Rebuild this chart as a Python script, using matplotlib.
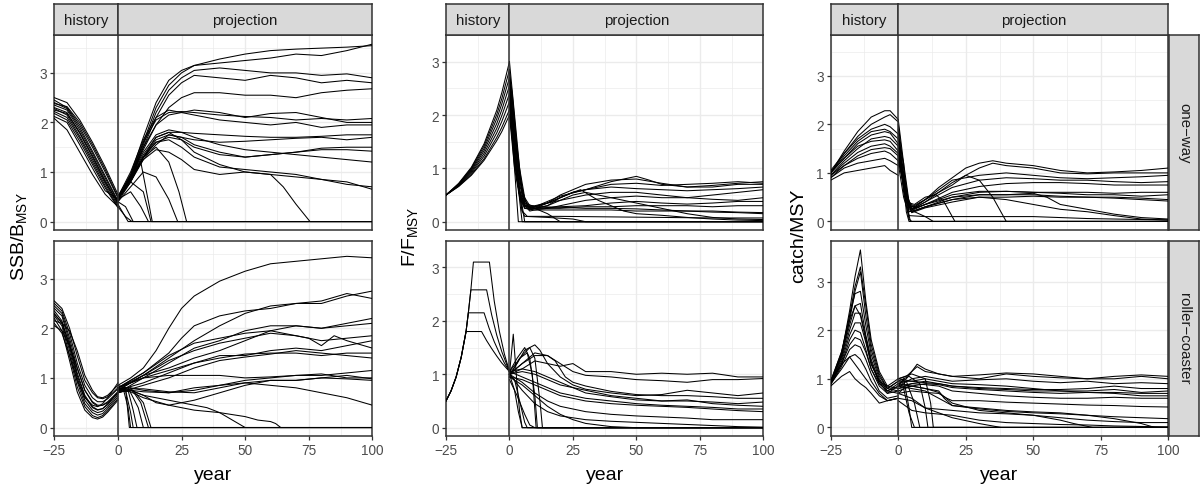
import matplotlib.pyplot as plt

plt.rcParams['font.family'] = ['Liberation Sans', 'DejaVu Sans']
plt.rcParams['mathtext.fontset'] = 'custom'
plt.rcParams['mathtext.rm'] = 'Liberation Sans'
plt.rcParams['mathtext.it'] = 'Liberation Sans:italic'

# ---------------- data ----------------
# SSB / BMSY, one-way history (values at hist_years_5)
hist_years_5 = [-25, -20, -15, -10, -5, 0]
ssb_oneway_hist = [
    [2.50, 2.40, 2.05, 1.60, 1.10, 0.55],
    [2.45, 2.30, 1.95, 1.50, 1.00, 0.48],
    [2.40, 2.28, 1.90, 1.42, 0.92, 0.42],
    [2.35, 2.25, 1.85, 1.38, 0.88, 0.40],
    [2.30, 2.20, 1.80, 1.33, 0.83, 0.36],
    [2.28, 2.15, 1.72, 1.25, 0.77, 0.33],
    [2.22, 2.10, 1.68, 1.20, 0.72, 0.30],
    [2.18, 2.05, 1.62, 1.15, 0.68, 0.28],
    [2.12, 2.00, 1.55, 1.08, 0.62, 0.45],
    [2.08, 1.85, 1.40, 0.95, 0.55, 0.30],
    [2.38, 2.32, 2.00, 1.55, 1.05, 0.50],
    [2.25, 2.18, 1.78, 1.30, 0.80, 0.38],
]
ssb_oneway_proj = [
    [(0, .45), (5, .9), (10, 1.6), (15, 2.3), (20, 2.75), (25, 3.0), (30, 3.15), (40, 3.28), (50, 3.38), (60, 3.45), (70, 3.48), (80, 3.5), (90, 3.52), (100, 3.55)],
    [(0, .5), (5, .95), (10, 1.7), (15, 2.4), (20, 2.85), (25, 3.05), (30, 3.15), (40, 3.2), (50, 3.25), (60, 3.3), (70, 3.38), (80, 3.35), (90, 3.45), (100, 3.58)],
    [(0, .5), (5, .9), (10, 1.55), (15, 2.2), (20, 2.65), (25, 2.9), (30, 3.05), (40, 3.1), (50, 3.05), (60, 3.0), (70, 3.0), (80, 2.95), (90, 2.98), (100, 2.9)],
    [(0, .45), (5, .85), (10, 1.5), (15, 2.1), (20, 2.55), (25, 2.8), (30, 2.95), (40, 2.9), (50, 2.85), (60, 2.95), (70, 2.9), (80, 2.8), (90, 2.85), (100, 2.8)],
    [(0, .5), (5, .9), (10, 1.45), (15, 1.95), (20, 2.3), (25, 2.5), (30, 2.6), (40, 2.6), (50, 2.55), (60, 2.55), (70, 2.5), (80, 2.6), (90, 2.65), (100, 2.68)],
    [(0, .45), (5, .95), (10, 1.6), (15, 2.05), (20, 2.2), (25, 2.22), (30, 2.2), (40, 2.15), (50, 2.12), (60, 2.1), (70, 2.05), (80, 2.08), (90, 2.05), (100, 2.08)],
    [(0, .5), (5, 1.0), (10, 1.65), (15, 2.1), (20, 2.25), (25, 2.2), (30, 2.25), (40, 2.2), (50, 2.1), (60, 2.18), (70, 2.2), (80, 2.1), (90, 2.0), (100, 2.0)],
    [(0, .45), (5, .9), (10, 1.5), (15, 1.95), (20, 2.15), (25, 2.2), (30, 2.15), (40, 2.05), (50, 2.0), (60, 1.95), (70, 2.0), (80, 1.9), (90, 1.95), (100, 1.95)],
    [(0, .5), (5, .9), (10, 1.35), (15, 1.7), (20, 1.8), (25, 1.8), (30, 1.78), (40, 1.75), (50, 1.72), (60, 1.7), (70, 1.7), (80, 1.72), (90, 1.75), (100, 1.75)],
    [(0, .45), (5, .85), (10, 1.3), (15, 1.65), (20, 1.75), (25, 1.7), (30, 1.65), (40, 1.6), (50, 1.62), (60, 1.65), (70, 1.68), (80, 1.7), (90, 1.65), (100, 1.7)],
    [(0, .4), (5, .8), (10, 1.25), (15, 1.55), (20, 1.75), (25, 1.7), (30, 1.55), (40, 1.4), (50, 1.3), (60, 1.35), (70, 1.4), (80, 1.45), (90, 1.45), (100, 1.42)],
    [(0, .45), (5, .9), (10, 1.3), (15, 1.6), (20, 1.7), (25, 1.65), (30, 1.5), (40, 1.35), (50, 1.3), (60, 1.35), (70, 1.4), (80, 1.48), (90, 1.5), (100, 1.5)],
    [(0, .5), (5, .9), (10, 1.4), (15, 1.75), (20, 1.85), (25, 1.8), (30, 1.7), (40, 1.55), (50, 1.45), (60, 1.4), (70, 1.35), (80, 1.3), (90, 1.25), (100, 1.2)],
    [(0, .45), (5, .85), (10, 1.3), (15, 1.6), (20, 1.65), (25, 1.5), (30, 1.3), (40, 1.1), (50, 1.05), (60, 1.0), (70, .95), (80, .85), (90, .8), (100, .65)],
    [(0, .5), (5, .85), (10, 1.25), (15, 1.45), (20, 1.4), (25, 1.25), (30, 1.05), (40, .95), (50, 1.0), (60, .95), (70, .9), (80, .85), (90, .75), (100, .7)],
    [(0, .45), (5, .8), (10, 1.3), (15, 1.7), (20, 1.8), (25, 1.65), (30, 1.4), (40, 1.15), (50, 1.0), (60, .95), (65, .7), (70, .35), (75.5, 0)],
    [(0, .45), (5, .8), (10, 1.3), (15, 1.5), (20, 1.2), (24, .6), (27, 0)],
    [(0, .4), (5, .7), (10, 1.0), (15, .9), (20, .45), (23.5, 0)],
    [(0, .35), (4, 0)],
    [(0, .3), (3, .1), (5.5, 0)],
    [(0, .45), (5, .6), (9, .3), (12, 0)],
    [(0, .5), (5, .8), (10, .6), (13, 0)],
    [(0, .45), (5, .9), (9, 1.2), (13.5, 0)],
    [(0, .4), (3, .3), (6, 0)],
]

# SSB / BMSY, roller-coaster history (values at hist_years_rc)
hist_years_rc = [-25, -22, -19, -16, -13, -10, -8, -6, -4, -2, 0]
ssb_roller_hist = [
    [2.55, 2.40, 2.00, 1.45, 0.95, 0.70, 0.60, 0.58, 0.62, 0.70, 0.80],
    [2.50, 2.35, 1.90, 1.30, 0.85, 0.60, 0.52, 0.52, 0.58, 0.68, 0.78],
    [2.45, 2.30, 1.80, 1.20, 0.75, 0.50, 0.43, 0.45, 0.52, 0.62, 0.72],
    [2.40, 2.25, 1.72, 1.10, 0.65, 0.42, 0.36, 0.38, 0.46, 0.58, 0.70],
    [2.35, 2.15, 1.62, 1.00, 0.55, 0.35, 0.30, 0.33, 0.42, 0.54, 0.66],
    [2.30, 2.10, 1.55, 0.92, 0.48, 0.30, 0.25, 0.28, 0.38, 0.50, 0.62],
    [2.25, 2.05, 1.45, 0.82, 0.42, 0.24, 0.20, 0.24, 0.34, 0.46, 0.58],
    [2.20, 1.95, 1.35, 0.72, 0.35, 0.20, 0.17, 0.21, 0.31, 0.43, 0.55],
    [2.15, 2.10, 1.95, 1.55, 1.05, 0.75, 0.62, 0.60, 0.65, 0.75, 0.85],
    [2.10, 1.90, 1.45, 0.95, 0.60, 0.45, 0.42, 0.48, 0.60, 0.75, 0.90],
    [2.05, 1.95, 1.65, 1.20, 0.75, 0.52, 0.45, 0.45, 0.50, 0.60, 0.68],
    [2.28, 2.12, 1.68, 1.05, 0.62, 0.40, 0.35, 0.38, 0.48, 0.60, 0.72],
]
ssb_roller_proj = [
    [(0, .85), (5, 1.0), (10, 1.2), (15, 1.55), (20, 2.0), (25, 2.4), (30, 2.65), (40, 2.95), (50, 3.15), (60, 3.3), (70, 3.35), (80, 3.4), (90, 3.45), (100, 3.42)],
    [(0, .8), (5, .95), (10, 1.1), (20, 1.5), (25, 1.8), (30, 2.05), (40, 2.25), (50, 2.35), (60, 2.4), (70, 2.5), (80, 2.5), (90, 2.65), (100, 2.75)],
    [(0, .75), (10, 1.05), (20, 1.4), (30, 1.75), (40, 2.05), (50, 2.3), (60, 2.45), (70, 2.5), (80, 2.55), (90, 2.7), (100, 2.6)],
    [(0, .8), (10, 1.1), (20, 1.45), (30, 1.7), (40, 1.8), (50, 1.9), (60, 1.95), (70, 2.05), (80, 2.0), (90, 2.1), (100, 2.2)],
    [(0, .7), (10, 1.0), (20, 1.3), (30, 1.6), (40, 1.75), (50, 1.95), (60, 2.05), (70, 2.05), (80, 2.0), (90, 2.05), (100, 2.1)],
    [(0, .75), (10, 1.05), (20, 1.35), (30, 1.55), (40, 1.7), (50, 1.8), (60, 1.9), (70, 1.85), (80, 1.75), (90, 1.8), (100, 1.85)],
    [(0, .8), (10, 1.05), (20, 1.2), (30, 1.4), (40, 1.55), (50, 1.75), (60, 1.95), (70, 1.85), (75, 1.8), (80, 1.65), (85, 1.85), (90, 1.75), (100, 1.6)],
    [(0, .75), (10, .9), (20, 1.1), (30, 1.3), (40, 1.4), (50, 1.48), (60, 1.5), (70, 1.5), (80, 1.45), (90, 1.5), (100, 1.5)],
    [(0, .7), (10, .85), (20, 1.0), (30, 1.2), (40, 1.35), (50, 1.42), (60, 1.48), (70, 1.55), (80, 1.5), (90, 1.45), (100, 1.4)],
    [(0, .8), (10, 1.0), (20, 1.15), (30, 1.3), (40, 1.45), (50, 1.45), (60, 1.55), (70, 1.6), (80, 1.55), (90, 1.65), (100, 1.75)],
    [(0, .8), (10, 1.0), (20, 1.05), (30, 1.05), (40, 1.05), (50, 1.0), (60, 1.02), (70, 1.05), (80, 1.05), (90, 1.1), (100, 1.15)],
    [(0, .75), (5, .75), (10, .72), (20, .7), (30, .75), (40, .85), (50, .95), (60, 1.0), (70, 1.05), (80, 1.08), (90, 1.0), (100, 1.0)],
    [(0, .7), (5, .78), (10, .78), (20, .72), (30, .7), (40, .8), (50, .9), (60, .95), (70, .95), (80, 1.0), (90, 1.05), (100, .98)],
    [(0, .75), (5, .75), (10, .65), (15, .5), (20, .45), (25, .5), (30, .55), (40, .7), (50, .85), (60, .95), (70, .95), (80, 1.0), (90, .98), (100, .95)],
    [(0, .78), (5, .8), (10, .75), (20, .7), (30, .8), (40, .85), (50, .9), (60, .85), (70, .8), (75, .75), (80, .7), (90, .6), (100, .45)],
    [(0, .78), (5, .75), (10, .65), (20, .55), (25, .5), (30, .45), (35, .4), (40, .3), (45, .15), (50, 0)],
    [(0, .75), (5, .72), (10, .6), (20, .45), (30, .35), (40, .3), (50, .22), (55, .15), (60, .12), (62, .08), (64, 0)],
    [(0, .75), (2, .8), (4, .4), (5, 0)],
    [(0, .8), (3, .75), (5, .3), (6, 0)],
    [(0, .7), (4, .75), (6, .35), (7.5, 0)],
    [(0, .8), (4, .8), (8, .4), (10, 0)],
    [(0, .78), (5, .8), (9, .5), (12, 0)],
    [(0, .72), (6, .75), (10, .5), (13, 0)],
    [(0, .85), (3, .8), (4.5, 0)],
]

# F / FMSY, one-way
hist_years_f = [-25, -20, -15, -10, -5, -3, 0]
f_oneway_hist = [
    [0.5, 0.720, 1.020, 1.460, 2.09, 2.42, 3.00],
    [0.5, 0.708, 1.003, 1.420, 2.01, 2.31, 2.85],
    [0.5, 0.701, 0.982, 1.375, 1.93, 2.21, 2.70],
    [0.5, 0.693, 0.960, 1.330, 1.84, 2.10, 2.55],
    [0.5, 0.684, 0.936, 1.280, 1.75, 1.99, 2.40],
    [0.5, 0.676, 0.913, 1.230, 1.665, 1.88, 2.25],
    [0.5, 0.666, 0.888, 1.180, 1.58, 1.77, 2.10],
    [0.5, 0.660, 0.870, 1.150, 1.52, 1.69, 2.00],
]
f_oneway_proj = [
    [(0, 3.0), (2, 2.0), (4, 1.0), (6, .45), (8, .3), (10, .3), (15, .35), (20, .45), (25, .55), (30, .6), (40, .75), (50, .85), (55, .78), (60, .7), (70, .65), (80, .68), (90, .72), (100, .75)],
    [(0, 2.85), (2, 1.8), (4, .9), (6, .4), (8, .25), (10, .28), (15, .35), (20, .5), (25, .6), (30, .7), (40, .78), (50, .8), (60, .72), (70, .65), (80, .65), (90, .7), (100, .7)],
    [(0, 2.7), (1, 2.45), (3, 1.4), (5, .6), (7, .3), (10, .25), (15, .3), (20, .45), (25, .55), (30, .6), (40, .65), (50, .62), (60, .6), (70, .58), (80, .6), (90, .62), (100, .65)],
    [(0, 2.6), (2, 1.6), (4, .8), (6, .35), (8, .22), (10, .25), (15, .3), (20, .4), (30, .5), (40, .55), (50, .55), (60, .5), (70, .45), (80, .5), (90, .55), (100, .6)],
    [(0, 2.5), (2, 1.5), (4, .7), (6, .3), (8, .2), (10, .22), (15, .25), (20, .3), (30, .4), (40, .45), (50, .48), (60, .45), (70, .45), (80, .42), (90, .4), (100, .45)],
    [(0, 2.4), (2, 1.3), (4, .6), (6, .3), (10, .25), (20, .28), (30, .3), (40, .35), (50, .38), (60, .35), (70, .33), (80, .35), (90, .38), (100, .38)],
    [(0, 2.3), (2, 1.2), (4, .55), (6, .28), (10, .25), (20, .25), (30, .28), (40, .28), (50, .3), (60, .3), (70, .3), (80, .28), (90, .3), (100, .3)],
    [(0, 2.2), (2, 1.1), (4, .5), (6, .25), (10, .22), (20, .22), (30, .22), (40, .22), (50, .2), (60, .2), (70, .2), (80, .18), (90, .17), (100, .15)],
    [(0, 2.1), (1, 2.4), (3, 1.3), (5, .5), (8, .25), (10, .28), (20, .27), (30, .25), (40, .25), (50, .24), (60, .22), (70, .2), (80, .2), (90, .18), (100, .17)],
    [(0, 2.0), (2, 1.0), (4, .45), (6, .25), (10, .25), (15, .35), (20, .45), (25, .55), (28, .6), (35, .4), (40, .3), (45, .2), (50, .15), (60, .12), (70, .08), (80, .05), (90, .03), (100, .02)],
    [(0, 2.65), (2, 1.7), (4, .8), (6, .35), (10, .28), (15, .35), (20, .4), (25, .5), (30, .55), (40, .45), (50, .35), (60, .25), (70, .15), (80, .08), (90, .05), (100, .04)],
    [(0, 2.35), (2, 1.3), (4, .55), (6, .3), (10, .28), (15, .38), (20, .48), (30, .6), (40, .7), (50, .72), (60, .68), (70, .7), (80, .72), (90, .75), (100, .72)],
    [(0, 2.5), (2, 1.5), (4, .4), (5, 0)],
    [(0, 2.2), (2, 1.0), (3.5, 0)],
    [(0, 2.8), (2, 1.5), (4, .6), (6, 0)],
    [(0, 2.0), (3, .8), (5, .2), (6, .1), (15, .08), (25, .05), (30, 0)],
    [(0, 2.3), (3, .8), (5, .2), (7, .1), (20, .1), (40, .09), (60, .08), (80, .07), (100, .07)],
    [(0, 2.4), (2, 1.2), (4, .5), (6, .3), (10, .25), (15, .15), (20, 0)],
]

# F / FMSY, roller-coaster (four distinct history paths)
f_roller_hist = [
    [(-25, .5), (-23, .69), (-21, .95), (-19, 1.32), (-17.1, 1.8), (-16.2, 2.15), (-15.2, 2.58), (-14.2, 3.1), (-7.9, 3.1), (-6, 2.37), (-4, 1.81), (-2, 1.38), (0, 1.05)],
    [(-25, .5), (-23, .69), (-21, .95), (-19, 1.32), (-17.1, 1.8), (-16.2, 2.15), (-15.2, 2.58), (-9, 2.58), (-7, 2.11), (-5, 1.73), (-3, 1.42), (0, 1.05)],
    [(-25, .5), (-23, .69), (-21, .95), (-19, 1.32), (-17.1, 1.8), (-16.2, 2.15), (-10, 2.15), (-8, 1.86), (-6, 1.61), (-4, 1.4), (-2, 1.21), (0, 1.05)],
    [(-25, .5), (-23, .69), (-21, .95), (-19, 1.32), (-17.1, 1.8), (-11, 1.8), (-9, 1.63), (-7, 1.48), (-5, 1.34), (-3, 1.21), (0, 1.05)],
]
f_roller_proj = [
    [(0, 1.05), (5, 1.1), (10, 1.25), (15, 1.2), (20, 1.15), (25, 1.2), (30, 1.05), (40, 1.05), (50, 1.0), (60, 1.02), (70, 1.0), (80, 1.02), (90, .95), (100, .95)],
    [(0, 1.0), (5, 1.2), (10, 1.4), (15, 1.35), (20, 1.2), (25, 1.05), (30, .98), (40, .95), (50, .9), (60, .88), (70, .85), (80, .9), (90, .9), (100, .92)],
    [(0, 1.05), (5, 1.35), (8, 1.5), (10, 1.55), (12, 1.45), (15, 1.2), (20, .95), (25, .8), (30, .72), (40, .65), (50, .6), (60, .62), (70, .7), (80, .65), (90, .6), (100, .65)],
    [(0, 1.0), (5, 1.2), (10, 1.35), (15, 1.35), (18, 1.25), (22, .95), (25, .85), (30, .78), (40, .68), (50, .62), (60, .6), (70, .6), (80, .58), (90, .55), (100, .55)],
    [(0, 1.0), (5, 1.05), (10, 1.0), (15, .9), (20, .8), (30, .7), (40, .6), (50, .55), (60, .5), (70, .5), (80, .48), (90, .45), (100, .48)],
    [(0, 1.05), (5, .95), (10, .85), (15, .75), (20, .65), (30, .55), (40, .5), (50, .45), (60, .42), (70, .4), (80, .38), (90, .35), (100, .35)],
    [(0, .95), (5, .9), (10, .8), (15, .7), (20, .6), (30, .5), (40, .45), (50, .42), (60, .4), (70, .38), (80, .35), (90, .32), (100, .3)],
    [(0, 1.0), (5, 1.1), (10, 1.05), (15, .95), (20, .85), (30, .65), (40, .58), (50, .52), (60, .5), (70, .52), (80, .45), (90, .42), (100, .4)],
    [(0, 1.0), (5, .85), (10, .65), (15, .5), (20, .4), (30, .3), (40, .25), (50, .22), (60, .2), (70, .18), (80, .15), (90, .15), (100, .15)],
    [(0, .95), (5, .8), (10, .6), (15, .4), (20, .25), (25, .15), (30, .08), (40, .02), (50, 0)],
    [(0, 1.0), (5, .7), (10, .45), (15, .3), (20, .22), (30, .15), (40, .12), (50, .1), (60, .08), (70, .06), (80, .04), (90, .02), (100, .01)],
    [(0, 1.0), (3, 1.2), (6, 1.45), (8, 1.5), (10, 1.3), (12, .5), (13, 0)],
    [(0, 1.05), (3, 1.3), (6, 1.5), (8, 1.3), (10, .6), (11, 0)],
    [(0, .95), (4, 1.3), (7, 1.4), (9, 1.0), (10.5, 0)],
    [(0, 1.0), (1.5, 1.75), (3, .8), (4, .3), (5, 0)],
    [(0, 1.0), (2, .7), (3.5, .3), (5, 0)],
    [(0, 1.0), (2, .9), (4, .5), (6, .1), (7, 0)],
    [(0, .9), (3, .6), (6, .25), (8, .05), (10, 0)],
]

# catch / MSY, one-way (history values at hist_years_f)
catch_oneway_hist = [
    [1.00, 1.45, 1.85, 2.15, 2.28, 2.28, 2.10],
    [1.00, 1.40, 1.75, 2.00, 2.15, 2.20, 2.05],
    [1.00, 1.35, 1.65, 1.85, 1.90, 1.85, 1.70],
    [1.00, 1.30, 1.60, 1.78, 1.85, 1.82, 1.60],
    [0.95, 1.25, 1.50, 1.70, 1.75, 1.72, 1.55],
    [1.00, 1.30, 1.55, 1.65, 1.68, 1.65, 1.45],
    [0.95, 1.20, 1.42, 1.55, 1.60, 1.55, 1.40],
    [0.90, 1.15, 1.35, 1.48, 1.52, 1.50, 1.35],
    [0.95, 1.15, 1.30, 1.40, 1.45, 1.40, 1.25],
    [0.90, 1.10, 1.20, 1.25, 1.30, 1.25, 1.15],
    [0.85, 1.00, 1.05, 1.10, 1.15, 1.05, 0.95],
    [1.05, 1.40, 1.70, 1.90, 2.00, 1.95, 1.80],
]
catch_oneway_proj = [
    [(0, 2.1), (2, 1.2), (4, .4), (6, .3), (10, .45), (15, .7), (20, .9), (25, 1.1), (30, 1.2), (35, 1.25), (40, 1.2), (50, 1.15), (60, 1.05), (70, 1.0), (80, 1.02), (90, 1.05), (100, 1.1)],
    [(0, 2.0), (2, 1.1), (4, .35), (6, .28), (10, .4), (15, .6), (20, .8), (25, .95), (30, 1.1), (35, 1.2), (40, 1.15), (50, 1.1), (60, 1.0), (70, .98), (80, 1.0), (90, 1.0), (100, 1.0)],
    [(0, 1.8), (2, 1.0), (4, .3), (6, .3), (10, .45), (15, .65), (20, .85), (30, .95), (40, 1.0), (50, .95), (60, .9), (70, .88), (80, .9), (90, .92), (100, .95)],
    [(0, 1.7), (2, .9), (4, .25), (6, .28), (10, .4), (15, .55), (20, .7), (30, .85), (40, .9), (50, .88), (60, .85), (70, .85), (80, .82), (90, .8), (100, .82)],
    [(0, 1.6), (2, .8), (4, .2), (6, .25), (10, .35), (20, .6), (30, .72), (40, .78), (50, .8), (60, .8), (70, .78), (80, .75), (90, .75), (100, .75)],
    [(0, 1.5), (2, .7), (4, .2), (6, .22), (10, .3), (20, .5), (30, .6), (40, .62), (50, .6), (60, .58), (70, .55), (80, .55), (90, .52), (100, .55)],
    [(0, 1.45), (3, .5), (5, .2), (10, .3), (20, .45), (30, .55), (40, .55), (50, .55), (60, .52), (70, .5), (80, .5), (90, .48), (100, .45)],
    [(0, 1.4), (3, .45), (5, .18), (10, .28), (20, .4), (30, .5), (40, .5), (50, .52), (60, .5), (70, .5), (80, .48), (90, .45), (100, .42)],
    [(0, 1.35), (3, .5), (5, .25), (10, .35), (20, .55), (30, .62), (40, .62), (50, .6), (60, .6), (70, .6), (80, .58), (90, .6), (100, .6)],
    [(0, 1.25), (3, .55), (5, .3), (10, .45), (15, .6), (20, .75), (25, .95), (30, .85), (35, .5), (38, .2), (40, 0)],
    [(0, 1.55), (3, .6), (5, .25), (10, .35), (20, .5), (30, .55), (40, .55), (50, .58), (55, .5), (60, .35), (70, .25), (80, .15), (90, .08), (100, .05)],
    [(0, 1.3), (3, .45), (5, .2), (10, .3), (20, .45), (30, .5), (40, .45), (50, .35), (60, .25), (70, .2), (80, .12), (90, .05), (100, .03)],
    [(0, 1.2), (2, .5), (4, .12), (10, .1), (30, .1), (50, .1), (60, .08), (70, .06), (80, .05), (90, .04), (100, .03)],
    [(0, 1.9), (2, .8), (3, .2), (4, 0)],
    [(0, 1.6), (2, .6), (4, .05), (5, 0)],
    [(0, 1.75), (2, 1.2), (3, .4), (4.5, 0)],
    [(0, 1.45), (3, .4), (6, .2), (10, .1), (13, 0)],
    [(0, 1.35), (3, .4), (6, .35), (10, .5), (14, .55), (17, .4), (20, .1), (21, 0)],
]

# catch / MSY, roller-coaster
hist_years_c = [-25, -21, -18, -16, -14, -12, -10, -7, -4, 0]
catch_roller_hist = [
    [0.90, 1.50, 2.40, 3.10, 3.65, 2.60, 1.80, 1.15, 0.85, 0.80],
    [0.92, 1.50, 2.30, 2.90, 3.30, 2.50, 1.70, 1.10, 0.80, 0.75],
    [0.95, 1.55, 2.30, 2.75, 2.80, 2.10, 1.50, 1.00, 0.75, 0.70],
    [0.95, 1.45, 2.10, 2.50, 2.55, 1.90, 1.40, 0.95, 0.70, 0.85],
    [0.90, 1.40, 2.00, 2.35, 2.35, 1.85, 1.35, 0.90, 0.75, 0.90],
    [0.92, 1.35, 1.90, 2.15, 2.15, 1.75, 1.30, 0.95, 0.80, 0.95],
    [0.90, 1.30, 1.80, 2.00, 1.95, 1.60, 1.20, 0.85, 0.70, 0.75],
    [0.95, 1.30, 1.70, 1.85, 1.80, 1.55, 1.20, 0.90, 0.75, 0.85],
    [0.88, 1.25, 1.60, 1.70, 1.65, 1.40, 1.10, 0.75, 0.60, 0.65],
    [0.90, 1.20, 1.45, 1.50, 1.40, 1.20, 0.95, 0.70, 0.55, 0.60],
    [0.90, 1.30, 1.45, 1.30, 1.15, 1.00, 0.85, 0.65, 0.55, 0.60],
    [0.85, 1.05, 1.15, 1.00, 0.90, 0.82, 0.70, 0.50, 0.55, 0.60],
    [0.93, 1.45, 2.20, 2.80, 3.20, 2.30, 1.60, 1.05, 0.80, 0.95],
    [0.95, 1.55, 2.20, 2.50, 2.30, 1.80, 1.30, 0.95, 0.85, 1.00],
]
catch_roller_proj = [
    [(0, 1.0), (3, 1.05), (7, 1.25), (10, 1.15), (15, 1.1), (20, 1.05), (30, 1.0), (40, 1.1), (50, 1.05), (60, 1.02), (70, 1.0), (80, 1.05), (90, 1.08), (100, 1.05)],
    [(0, .9), (3, 1.0), (7, 1.3), (10, 1.2), (15, 1.1), (20, 1.05), (30, 1.08), (40, 1.12), (50, 1.1), (60, 1.05), (70, 1.0), (80, 1.0), (90, 1.05), (100, 1.0)],
    [(0, .85), (5, 1.0), (10, 1.05), (15, 1.0), (20, .95), (30, .98), (40, 1.0), (50, .95), (60, .92), (70, .95), (80, .9), (90, .92), (100, .9)],
    [(0, .95), (5, .95), (10, 1.0), (15, .95), (20, .9), (30, .88), (40, .85), (50, .8), (60, .75), (70, .75), (80, .78), (90, .72), (100, .75)],
    [(0, .8), (5, .9), (10, .95), (15, .9), (20, .85), (30, .8), (40, .78), (50, .75), (60, .75), (70, .72), (80, .72), (90, .7), (100, .7)],
    [(0, .75), (5, .85), (10, .9), (15, .88), (20, .82), (30, .78), (40, .75), (50, .72), (60, .7), (70, .72), (80, .7), (90, .65), (100, .65)],
    [(0, 1.0), (5, .95), (10, .92), (15, .9), (20, .85), (30, .82), (40, .8), (50, .78), (60, .78), (70, .8), (80, .85), (90, .8), (100, .8)],
    [(0, .85), (5, .9), (10, .88), (15, .85), (20, .75), (30, .7), (40, .65), (50, .62), (60, .6), (70, .6), (80, .62), (90, .6), (100, .6)],
    [(0, .7), (5, .75), (10, .72), (15, .7), (18, .6), (20, .55), (30, .55), (40, .52), (50, .5), (60, .48), (70, .46), (80, .45), (90, .43), (100, .42)],
    [(0, .9), (5, .85), (10, .8), (15, .75), (17, .6), (20, .45), (30, .38), (40, .33), (50, .3), (60, .28), (70, .25), (80, .22), (90, .2), (100, .18)],
    [(0, .6), (5, .55), (10, .4), (20, .35), (30, .3), (40, .28), (50, .25), (60, .2), (70, .15), (80, .12), (90, .1), (100, .1)],
    [(0, .55), (5, .35), (10, .3), (20, .25), (30, .15), (40, .1), (50, .08), (60, .06), (70, .05), (80, .03), (90, .02), (100, .01)],
    [(0, .8), (5, .85), (10, .8), (15, .72), (20, .5), (30, .35), (40, .3), (50, .25), (60, .15), (65, .08), (72, 0)],
    [(0, .85), (10, .75), (20, .45), (30, .4), (40, .35), (50, .32), (60, .3), (70, .25), (80, .18), (90, .08), (95, 0)],
    [(0, .7), (5, .6), (10, .4), (20, .2), (30, .08), (38, 0)],
    [(0, .85), (2, 1.0), (4, .4), (5, 0)],
    [(0, .7), (2, .8), (4, .3), (6, 0)],
    [(0, .9), (3, .95), (6, .5), (8, 0)],
    [(0, .95), (4, 1.05), (8, .9), (10, .4), (11, 0)],
    [(0, 1.0), (5, 1.1), (10, 1.0), (12, .5), (13, 0)],
]

x_ticks = [-25, 0, 25, 50, 75, 100]
y_ticks = [0, 1, 2, 3]
col_titles = ['SSB/B$_{\\mathrm{MSY}}$', 'F/F$_{\\mathrm{MSY}}$', 'catch/MSY']
row_labels = ['one\u2212way', 'roller\u2212coaster']

# ---------------- layout (pixels) ----------------
W, H = 1203, 489
fig = plt.figure(figsize=(W / 100, H / 100), dpi=100)

cols = [(54.3, 372.3), (446.0, 763.3), (830.7, 1168.3)]
rows = [(36.0, 230.7), (241.7, 436.7)]
ylims = [(-0.165, 3.765), (-0.15, 3.25), (-0.17, 3.84)]
border = '#333333'


def px_axes(x0, x1, ytop, ybot):
    return fig.add_axes([x0 / W, 1 - ybot / H, (x1 - x0) / W, (ybot - ytop) / H])


def strip(x0, x1, ytop, ybot, label, rot=0):
    sax = px_axes(x0, x1, ytop, ybot)
    sax.set_facecolor('#D9D9D9')
    sax.set_xticks([])
    sax.set_yticks([])
    for s in sax.spines.values():
        s.set_color(border)
        s.set_linewidth(1.1)
    sax.text(0.5, 0.5, label, transform=sax.transAxes, ha='center', va='center',
             rotation=rot, fontsize=10.8, color='#1A1A1A')


def draw_lines(ax, lines, years=None):
    for ln in lines:
        if years is not None:
            xs, ys = list(years), list(ln)
        else:
            xs = [p[0] for p in ln]
            ys = [p[1] for p in ln]
        # collapsed runs stay at zero to the end of the projection
        if ys[-1] == 0 and xs[-1] < 100:
            xs.append(100)
            ys.append(0)
        ax.plot(xs, ys, color='black', lw=0.75, solid_joinstyle='round', zorder=3)


def style(ax, ylim, bottom):
    ax.set_xlim(-25, 100)
    ax.set_ylim(*ylim)
    ax.set_xticks(x_ticks)
    ax.set_xticks([-12.5, 12.5, 37.5, 62.5, 87.5], minor=True)
    ax.set_yticks(y_ticks)
    ax.set_yticks([0.5, 1.5, 2.5, 3.5], minor=True)
    ax.grid(which='major', color='#EBEBEB', lw=1.0)
    ax.grid(which='minor', color='#EBEBEB', lw=0.5)
    ax.set_axisbelow(True)
    for s in ax.spines.values():
        s.set_color(border)
        s.set_linewidth(1.1)
    ax.tick_params(which='major', length=2.75, width=0.9, color=border,
                   labelcolor='#4D4D4D', labelsize=9.8, pad=2.2)
    ax.tick_params(which='minor', length=0)
    if not bottom:
        ax.tick_params(axis='x', which='both', length=0, labelbottom=False)
    ax.axvline(0, color=border, lw=1.1, zorder=4)


panels = [
    [(ssb_oneway_hist, hist_years_5, ssb_oneway_proj), (ssb_roller_hist, hist_years_rc, ssb_roller_proj)],
    [(f_oneway_hist, hist_years_f, f_oneway_proj), (f_roller_hist, None, f_roller_proj)],
    [(catch_oneway_hist, hist_years_f, catch_oneway_proj), (catch_roller_hist, hist_years_c, catch_roller_proj)],
]

for c, (x0, x1) in enumerate(cols):
    for r, (yt, yb) in enumerate(rows):
        ax = px_axes(x0, x1, yt, yb)
        hist, hyears, proj = panels[c][r]
        draw_lines(ax, hist, hyears)
        draw_lines(ax, proj)
        style(ax, ylims[c], bottom=(r == 1))
    # top strips
    xz = x0 + (x1 - x0) * 25 / 125
    strip(x0, xz, 5, 36, 'history')
    strip(xz, x1, 5, 36, 'projection')
    fig.text((x0 + x1) / 2 / W, 1 - 480.5 / H, 'year', ha='center', va='baseline',
             fontsize=14, color='black')

ylab_x = [19, 410, 799]
for c in range(3):
    fig.text(ylab_x[c] / W, 1 - 236.3 / H, col_titles[c], rotation=90,
             ha='center', va='center', fontsize=14, color='black')

for r, (yt, yb) in enumerate(rows):
    strip(1169.3, 1199, yt, yb, row_labels[r], rot=-90)

fig.savefig('out.png', dpi=100)
